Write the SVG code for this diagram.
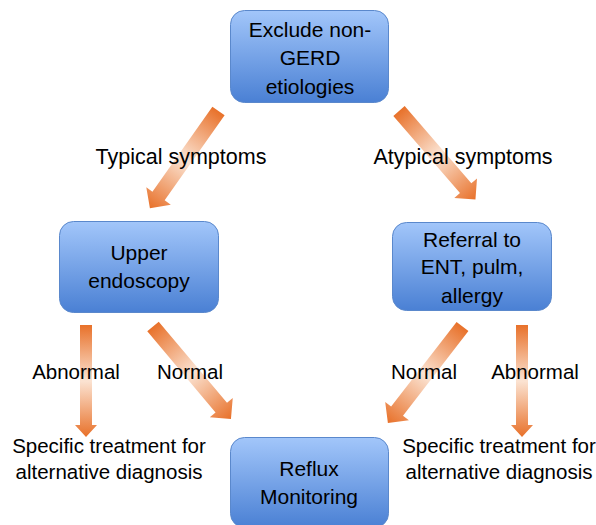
<svg xmlns="http://www.w3.org/2000/svg" width="596" height="525" viewBox="0 0 596 525">
<defs>
<linearGradient id="boxg" x1="0" y1="0" x2="0" y2="1">
<stop offset="0" stop-color="#A2C6FA"/>
<stop offset="1" stop-color="#4A80D4"/>
</linearGradient>
<linearGradient id="arrg" x1="0" y1="0" x2="1" y2="0">
<stop offset="0" stop-color="#E8712A"/>
<stop offset="0.5" stop-color="#FBE3D2"/>
<stop offset="1" stop-color="#E8712A"/>
</linearGradient>
<style>
.box{fill:url(#boxg);stroke:#5A88CC;stroke-width:1}
.t{font-family:"Liberation Sans",Arial,sans-serif;font-size:21px;fill:#000;text-anchor:middle}
.l{font-family:"Liberation Sans",Arial,sans-serif;font-size:20.5px;fill:#000;text-anchor:middle}
.s{font-size:21.5px}
.arr{fill:url(#arrg)}
</style>
</defs>
<g id="connectors">
<g transform="translate(218.5,111) rotate(125.2)"><polygon class="arr" points="0,-7.5 104,-7.5 104,-15 119,0 104,15 104,7.5 0,7.5"/></g>
<g transform="translate(399,111) rotate(49.2)"><polygon class="arr" points="0,-7.5 102,-7.5 102,-15 117,0 102,15 102,7.5 0,7.5"/></g>
<g transform="translate(86,325) rotate(90)"><polygon class="arr" points="0,-6 100,-6 100,-11 112,0 100,11 100,6 0,6"/></g>
<g transform="translate(153,326.5) rotate(49.9)"><polygon class="arr" points="0,-7.5 106,-7.5 106,-15 121,0 106,15 106,7.5 0,7.5"/></g>
<g transform="translate(462.5,326.5) rotate(127.7)"><polygon class="arr" points="0,-7.5 107,-7.5 107,-15 122,0 107,15 107,7.5 0,7.5"/></g>
<g transform="translate(522,325) rotate(90)"><polygon class="arr" points="0,-6 100,-6 100,-11 112,0 100,11 100,6 0,6"/></g>
</g>
<g id="labels">
<text class="l s" x="181" y="164">Typical symptoms</text>
<text class="l s" x="463" y="164">Atypical symptoms</text>
<text class="l" x="76" y="379">Abnormal</text>
<text class="l" x="190" y="379">Normal</text>
<text class="l" x="424" y="379">Normal</text>
<text class="l" x="535" y="379">Abnormal</text>
<text class="l" x="109" y="453">Specific treatment for</text>
<text class="l" x="109" y="479">alternative diagnosis</text>
<text class="l" x="499" y="453">Specific treatment for</text>
<text class="l" x="499" y="479">alternative diagnosis</text>
</g>
<g id="exclude">
<rect class="box" x="230.5" y="10.5" width="158" height="92" rx="14"/>
<text class="t" x="310" y="37">Exclude non-</text>
<text class="t" x="310" y="65">GERD</text>
<text class="t" x="310" y="94">etiologies</text>
</g>
<g id="endoscopy">
<rect class="box" x="59.5" y="221.5" width="159" height="91" rx="14"/>
<text class="t" x="139" y="260">Upper</text>
<text class="t" x="139" y="288">endoscopy</text>
</g>
<g id="referral">
<rect class="box" x="392.5" y="222.5" width="159" height="88" rx="14"/>
<text class="t" x="472" y="247">Referral to</text>
<text class="t" x="472" y="274">ENT, pulm,</text>
<text class="t" x="472" y="303">allergy</text>
</g>
<g id="reflux">
<rect class="box" x="230.5" y="437.5" width="158" height="90" rx="14"/>
<text class="t" x="309" y="476">Reflux</text>
<text class="t" x="309" y="504">Monitoring</text>
</g>
</svg>
